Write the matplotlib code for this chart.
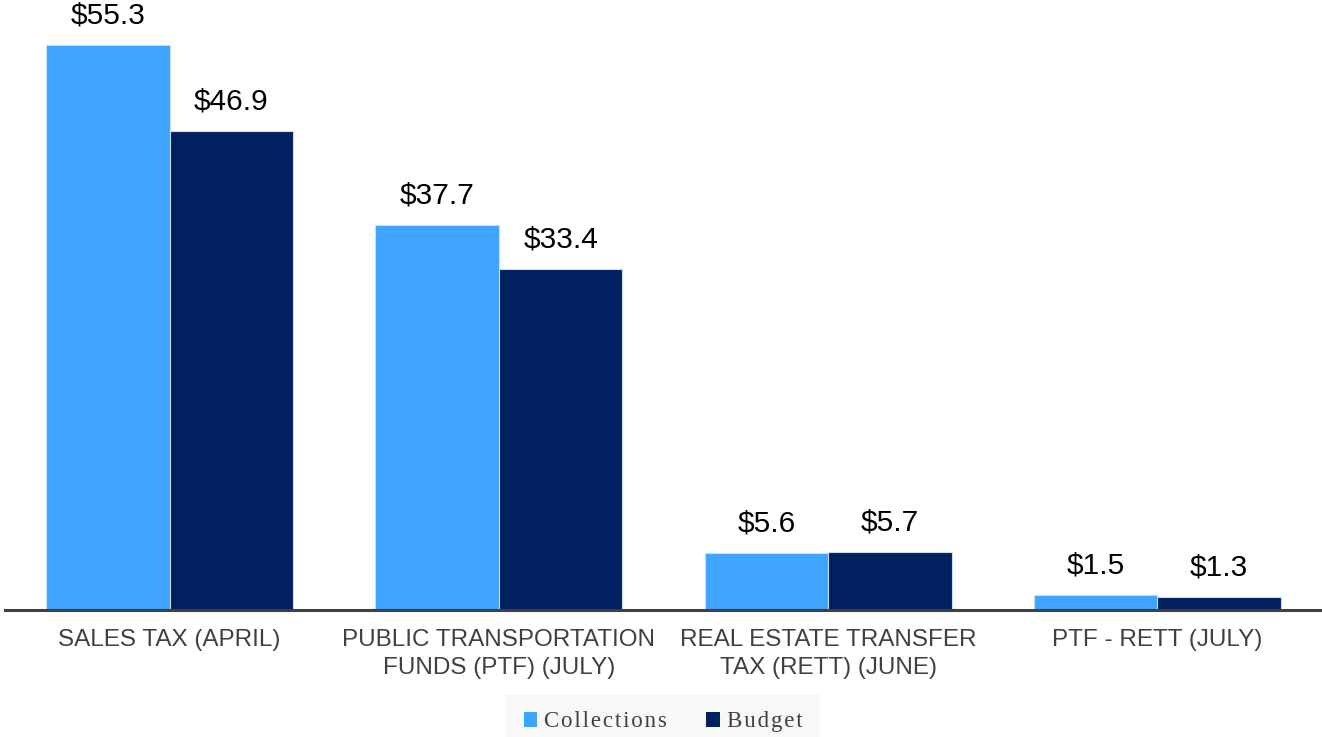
import matplotlib
matplotlib.use("Agg")
import matplotlib.pyplot as plt
import numpy as np
from matplotlib.patches import Patch

categories = ["SALES TAX (APRIL)", "PUBLIC TRANSPORTATION\nFUNDS (PTF) (JULY)",
              "REAL ESTATE TRANSFER\nTAX (RETT) (JUNE)", "PTF - RETT (JULY)"]
collections = [55.3, 37.7, 5.6, 1.5]
budget = [46.9, 33.4, 5.7, 1.3]
series_names = ["Collections", "Budget"]

c_col = "#3FA4FF"
c_bud = "#00205F"

W, H = 1322, 737
fig = plt.figure(figsize=(W / 100, H / 100), dpi=100)
ax = fig.add_axes([5 / W, (H - 610) / H, (W - 5) / W, 610 / H])

x = np.arange(len(categories))
bw = 0.375
b1 = ax.bar(x - bw / 2, collections, bw, color=c_col, edgecolor="#C9DDF2", linewidth=0.8, label=series_names[0])
b2 = ax.bar(x + bw / 2, budget, bw, color=c_bud, edgecolor="#C9DDF2", linewidth=0.8, label=series_names[1])

for bars, vals in ((b1, collections), (b2, budget)):
    for r, v in zip(bars, vals):
        ax.annotate(f"${v:.1f}", (r.get_x() + r.get_width() / 2, r.get_height()),
                    xytext=(0, 11), textcoords="offset points", ha="center", va="bottom",
                    fontsize=21.5, family="Liberation Sans", color="black")

ax.set_xlim(-0.5, 3.5)
ax.set_ylim(0, 59.7)
ax.set_yticks([])
ax.set_xticks(x)
ax.set_xticklabels(categories, fontsize=17.5, family="Liberation Sans", color="#404040", linespacing=1.35)
ax.tick_params(axis="x", length=0, pad=14)
for s in ("top", "right", "left"):
    ax.spines[s].set_visible(False)
ax.spines["bottom"].set_color("#404040")
ax.spines["bottom"].set_linewidth(2.2)

hs = "\u200a"
def spaced(t):
    return hs.join(t)

handles = [Patch(facecolor=c_col, edgecolor="none"), Patch(facecolor=c_bud, edgecolor="none")]
leg = fig.legend(handles, [spaced(n) for n in series_names], loc="lower center",
                 bbox_to_anchor=(0.5015, -0.017), ncol=2, frameon=True, fancybox=False,
                 handlelength=0.6, handleheight=0.6, handletextpad=0.3, columnspacing=1.7,
                 borderpad=0.75, borderaxespad=0.0,
                 prop={"family": ["Liberation Serif", "DejaVu Serif"], "size": 16.5})
leg.get_frame().set_facecolor("#F7F7F7")
leg.get_frame().set_edgecolor("none")
for t in leg.get_texts():
    t.set_color("#404040")

fig.savefig("out.png", dpi=100)
